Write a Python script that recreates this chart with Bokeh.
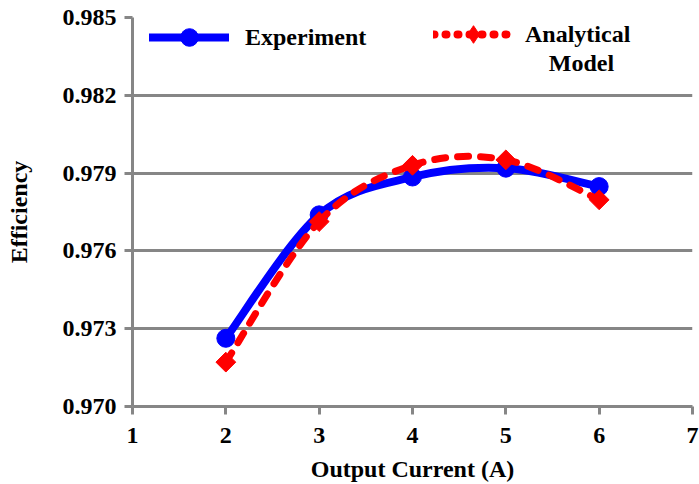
import numpy as np
from bokeh.plotting import figure
from bokeh.models import (FixedTicker, PrintfTickFormatter, Legend, LegendItem,
                          Label, Range1d)
from bokeh.embed import file_html
from bokeh.resources import INLINE

# ---- data ----
current = [2, 3, 4, 5, 6]
experiment = [0.97263, 0.97739, 0.97885, 0.97919, 0.97848]
analytical = [0.97171, 0.97713, 0.97930, 0.97951, 0.97797]
x_ticks = [1, 2, 3, 4, 5, 6, 7]
y_ticks = [0.970, 0.973, 0.976, 0.979, 0.982, 0.985]

FONT = "Liberation Serif"
FS = "24px"
GRAY = "#868686"
BLUE = "#0000FF"
RED = "#FF0000"


def smooth_segments(xs, ys):
    """Excel-like smoothing: cubic Bezier segments through the data points."""
    xs = np.asarray(xs, float)
    ys = np.asarray(ys, float)
    n = len(xs)
    out = {k: [] for k in ("x0", "y0", "x1", "y1", "cx0", "cy0", "cx1", "cy1")}
    for i in range(n - 1):
        i0 = max(i - 1, 0)
        i3 = min(i + 2, n - 1)
        out["x0"].append(xs[i]); out["y0"].append(ys[i])
        out["x1"].append(xs[i + 1]); out["y1"].append(ys[i + 1])
        out["cx0"].append(xs[i] + (xs[i + 1] - xs[i0]) / 6)
        out["cy0"].append(ys[i] + (ys[i + 1] - ys[i0]) / 6)
        out["cx1"].append(xs[i + 1] - (xs[i3] - xs[i]) / 6)
        out["cy1"].append(ys[i + 1] - (ys[i3] - ys[i]) / 6)
    return out


p = figure(width=699, height=484, output_backend="svg", toolbar_location=None,
           x_range=Range1d(1, 7), y_range=Range1d(0.970, 0.985),
           min_border_left=132, min_border_right=7, min_border_top=17,
           min_border_bottom=78)
p.outline_line_color = None
p.background_fill_color = "white"
p.border_fill_color = "white"

# grid
p.xgrid.grid_line_color = None
p.ygrid.grid_line_color = GRAY
p.ygrid.grid_line_width = 3
p.ygrid.ticker = FixedTicker(ticks=y_ticks)

# axes
p.xaxis.ticker = FixedTicker(ticks=x_ticks)
p.yaxis.ticker = FixedTicker(ticks=y_ticks)
p.yaxis.formatter = PrintfTickFormatter(format="%.3f")
p.xaxis.axis_label = "Output Current (A)"
p.yaxis.axis_label = "Efficiency"
for ax in (p.xaxis, p.yaxis):
    ax.axis_line_color = GRAY
    ax.axis_line_width = 3
    ax.major_tick_line_color = GRAY
    ax.major_tick_line_width = 3
    ax.major_tick_out = 8
    ax.major_tick_in = 0
    ax.minor_tick_line_color = None
    ax.major_label_text_font = FONT
    ax.major_label_text_font_style = "bold"
    ax.major_label_text_font_size = FS
    ax.major_label_text_color = "black"
    ax.axis_label_text_font = FONT
    ax.axis_label_text_font_style = "bold"
    ax.axis_label_text_font_size = FS
    ax.axis_label_text_color = "black"
p.xaxis.major_label_standoff = 13
p.xaxis.axis_label_standoff = 10
p.yaxis.major_label_standoff = 8
p.yaxis.axis_label_standoff = 28

# experiment
seg_e = smooth_segments(current, experiment)
p.bezier(source=seg_e, x0="x0", y0="y0", x1="x1", y1="y1",
         cx0="cx0", cy0="cy0", cx1="cx1", cy1="cy1",
         line_color=BLUE, line_width=8, line_cap="round")
p.scatter(current, experiment, marker="circle", size=18,
          fill_color=BLUE, line_color=BLUE)

# analytical model
seg_a = smooth_segments(current, analytical)
p.bezier(source=seg_a, x0="x0", y0="y0", x1="x1", y1="y1",
         cx0="cx0", cy0="cy0", cx1="cx1", cy1="cy1",
         line_color=RED, line_width=7, line_cap="round", line_dash="11 12")
p.scatter(current, analytical, marker="square", size=14, angle=np.pi / 4,
          fill_color=RED, line_color=RED)

# legend samples
leg_e_line = p.line([np.nan], [np.nan], line_color=BLUE, line_width=8,
                    line_cap="round")
leg_e_mark = p.scatter([np.nan], [np.nan], marker="circle", size=18,
                       fill_color=BLUE, line_color=BLUE)
leg_a_line = p.line([np.nan], [np.nan], line_color=RED, line_width=8,
                    line_cap="round", line_dash="1 11")
leg_a_mark = p.scatter([np.nan], [np.nan], marker="diamond", size=30,
                       fill_color=RED, line_color=RED)


def make_legend(label, renderers, loc, standoff):
    lg = Legend(items=[LegendItem(label=label, renderers=renderers)],
                location=loc, orientation="horizontal",
                border_line_color=None, background_fill_alpha=0,
                padding=0, margin=0, spacing=0,
                glyph_width=80, glyph_height=44, label_height=44,
                label_standoff=standoff,
                label_text_font=FONT, label_text_font_style="bold",
                label_text_font_size=FS, label_text_color="black")
    return lg


p.add_layout(make_legend("Experiment", [leg_e_line, leg_e_mark], (17, 347), 16),
             "center")
p.add_layout(make_legend("Analytical", [leg_a_line, leg_a_mark], (301, 350), 12),
             "center")

p.add_layout(Label(x=5.81, y=0.98325, text="Model", text_align="center",
                   text_baseline="alphabetic", text_font=FONT,
                   text_font_style="bold", text_font_size=FS,
                   text_color="black"))

open("out.html", "w").write(file_html(p, INLINE))
